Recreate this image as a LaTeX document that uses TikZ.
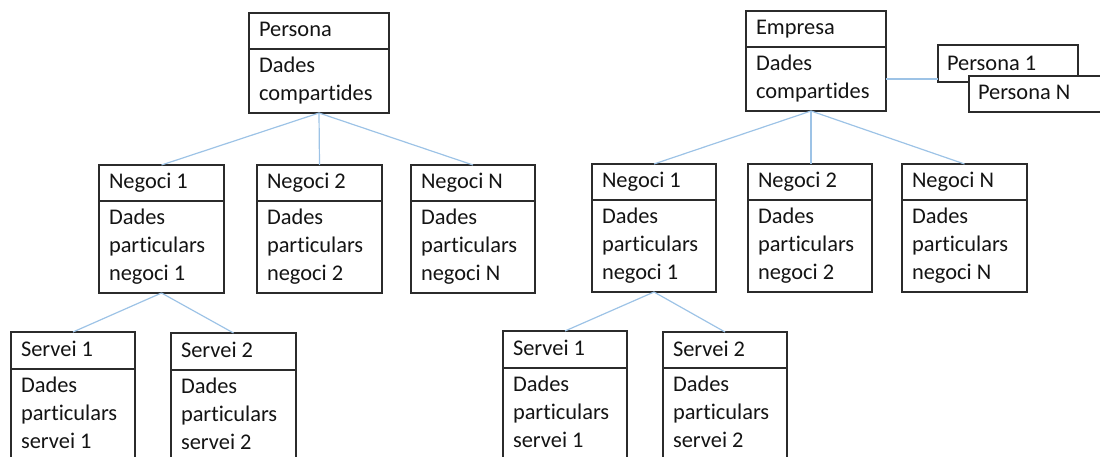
\documentclass[tikz,border=0pt]{standalone}
\usepackage{fontspec}
\setmainfont{Carlito}[Ligatures=NoCommon]
\definecolor{boxline}{HTML}{2B2B2B}
\definecolor{linkblue}{HTML}{9DC3E6}
\definecolor{ink}{HTML}{141414}
\tikzset{
  cell/.style={draw=boxline, line width=1.3pt, fill=white, anchor=north west,
               inner sep=0pt, outer sep=0pt},
  txt/.style={anchor=north west, inner sep=0pt, outer sep=0pt, text=ink,
              align=left, font=\fontsize{22.4}{28}\selectfont,
              execute at begin node={\rule{0pt}{16pt}}},
  link/.style={draw=linkblue, line width=1.2pt},
}
% class box: name, left, top, divider, bottom, right, title, body
% (every text line starts 16pt above its baseline, so an 8pt drop puts
%  the first baseline 24pt below the top edge)
\newcommand\umlbox[8]{%
  \node[cell, minimum width={#6pt-#2pt}, minimum height={#4pt-#3pt}] (#1h) at (#2,#3) {};
  \node[cell, minimum width={#6pt-#2pt}, minimum height={#5pt-#4pt}] (#1b) at (#2,#4) {};
  \node[txt] (#1t) at ([shift={(10pt,-8pt)}]#1h.north west) {#7};
  \node[txt] (#1d) at ([shift={(10pt,-8pt)}]#1b.north west) {#8};
}
\begin{document}
\begin{tikzpicture}[x=1pt,y=-1pt]
\useasboundingbox (0,0) rectangle (1100,457);
\clip (0,0) rectangle (1100,457);

% left tree
\umlbox{pe}{249}{13}{49}{113}{389}{Persona}{Dades\\compartides}
\umlbox{la}{99}{165}{201}{293}{224}{Negoci 1}{Dades\\particulars\\negoci 1}
\umlbox{lb}{257}{165}{201}{293}{382}{Negoci 2}{Dades\\particulars\\negoci 2}
\umlbox{lc}{411}{165}{201}{293}{535}{Negoci N}{Dades\\particulars\\negoci N}
\umlbox{ls}{11}{332}{369}{480}{135}{Servei 1}{Dades\\particulars\\servei 1}
\umlbox{lt}{171}{333}{370}{480}{296}{Servei 2}{Dades\\particulars\\servei 2}
\draw[boxline, line width=2.2pt] (lth.south west) -- (lth.south east);

% right tree
\umlbox{em}{746}{11}{47}{111}{886}{Empresa}{Dades\\compartides}
\node[cell, minimum width=140pt, minimum height=37pt] (p1) at (938,45) {};
\node[txt] (p1t) at ([shift={(9pt,-10pt)}]p1.north west) {Persona 1};
\node[cell, minimum width=150pt, minimum height=36pt] (pn) at (969,76) {};
\node[txt] (pnt) at ([shift={(9pt,-8pt)}]pn.north west) {Persona N};
\umlbox{ra}{592}{164}{200}{292}{716}{Negoci 1}{Dades\\particulars\\negoci 1}
\umlbox{rb}{748}{164}{200}{292}{872}{Negoci 2}{Dades\\particulars\\negoci 2}
\umlbox{rc}{902}{164}{200}{292}{1027}{Negoci N}{Dades\\particulars\\negoci N}
\umlbox{rs}{503}{331}{368}{480}{627}{Servei 1}{Dades\\particulars\\servei 1}
\umlbox{rt}{663}{332}{368}{480}{787}{Servei 2}{Dades\\particulars\\servei 2}
\draw[boxline, line width=2.2pt] (rth.south west) -- (rth.south east);

% connectors
\draw[link] (peb.south) -- (lah.north);
\draw[link] (peb.south) -- (lbh.north);
\draw[link] (peb.south) -- (lch.north);
\draw[link] (lab.south) -- (lsh.north);
\draw[link] (lab.south) -- (lth.north);
\coordinate (emfoot) at ([xshift=-5pt]emb.south);
\draw[link] (emfoot) -- (rah.north);
\draw[link] (emfoot) -- (emfoot |- rbh.north);
\draw[link] (emfoot) -- (rch.north);
\draw[link] (rab.south) -- (rsh.north);
\draw[link] (rab.south) -- (rth.north);
\draw[link] (emb.east) -- (emb.east -| p1.west);
\end{tikzpicture}
\end{document}
